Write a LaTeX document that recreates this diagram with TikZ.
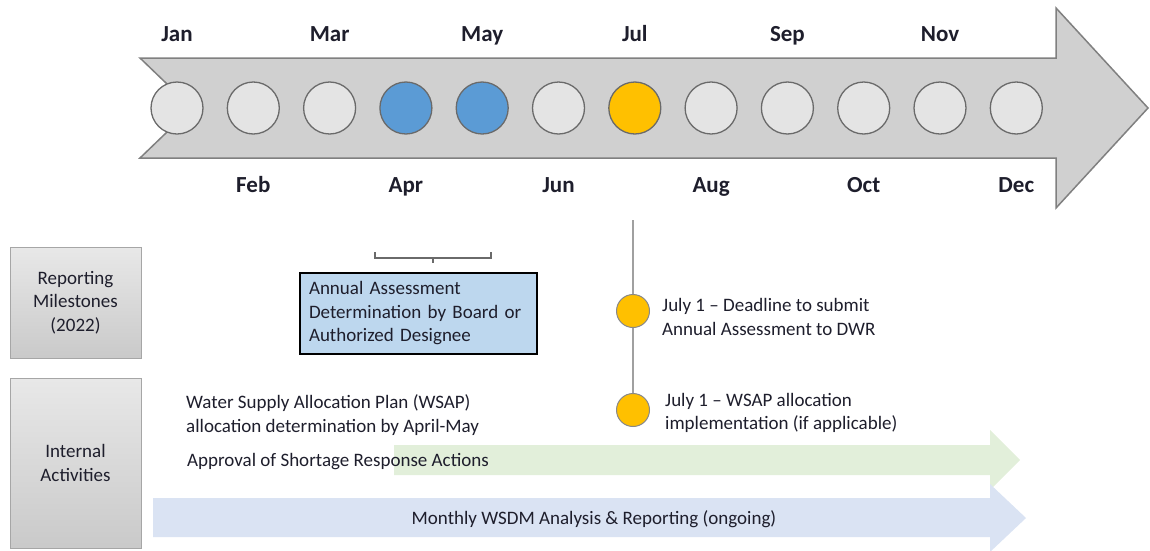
\documentclass[tikz,border=0pt]{standalone}
\usepackage{fontspec}
\setmainfont{Carlito}
\usetikzlibrary{calc}
\definecolor{arrowgray}{HTML}{D0D0D0}
\definecolor{arrowedge}{HTML}{808080}
\definecolor{mgray}{HTML}{E4E4E4}
\definecolor{mblue}{HTML}{5B9BD5}
\definecolor{mgold}{HTML}{FFC000}
\definecolor{circedge}{HTML}{6A6A6A}
\definecolor{txt}{HTML}{1E1E2C}
\definecolor{boxblue}{HTML}{BDD7EE}
\definecolor{lgreen}{HTML}{E2EFDA}
\definecolor{lblue}{HTML}{DAE3F3}
\definecolor{boxedge}{HTML}{A6A6A6}
\definecolor{linegray}{HTML}{A0A0A0}
\tikzset{
  month/.style={circle, draw=circedge, line width=1.3pt, minimum size=52pt, inner sep=0pt},
  monthlbl/.style={text=txt, font=\fontsize{23}{27}\selectfont\bfseries, inner sep=0pt, anchor=base},
  body/.style={text=txt, font=\fontsize{19}{23.5}\selectfont, inner sep=0pt},
  graybox/.style={draw=boxedge, line width=1pt, top color=gray!18, bottom color=gray!42,
    minimum width=131pt, align=center, text=txt, font=\fontsize{19}{23.5}\selectfont},
  dot/.style={circle, fill=mgold, draw=circedge!80, line width=1pt, minimum size=33pt, inner sep=0pt},
}
\begin{document}
\begin{tikzpicture}[x=1pt,y=-1pt]
\useasboundingbox (0,0) rectangle (1150,550);
% main arrow
\draw[fill=arrowgray, draw=arrowedge, line width=1.5pt, line join=miter]
  (140,58) -- (1056,58) -- (1056,8) -- (1148,108) -- (1056,208) -- (1056,158)
  -- (140,158) -- (192,108) -- cycle;
% month circles and labels
\foreach \i/\nm/\col in {1/Jan/mgray,2/Feb/mgray,3/Mar/mgray,4/Apr/mblue,5/May/mblue,6/Jun/mgray,
  7/Jul/mgold,8/Aug/mgray,9/Sep/mgray,10/Oct/mgray,11/Nov/mgray,12/Dec/mgray}{
  \pgfmathsetmacro\xx{177+(\i-1)*76.3}
  \pgfmathsetmacro\ly{mod(\i,2)==1 ? 41 : 192}
  \node[month, fill=\col] (m\i) at (\xx,108) {};
  \node[monthlbl] (l\i) at (\xx,\ly) {\nm};
}
% side boxes
\node[graybox, minimum height=111pt] (rep) at (75.5,302.5) {Reporting\\Milestones\\(2022)};
\node[graybox, minimum height=170pt] (int) at (75.5,463) {Internal\\Activities};
% bracket
\coordinate (bl) at (375,252);
\coordinate (br) at (491,252);
\coordinate (bm) at (433,258);
\coordinate (bt) at (433,263);
\draw[circedge, line width=1.2pt] (bl) |- (bm) -| (br);
\draw[circedge, line width=1.2pt] (bm) -- (bt);
% annual assessment box
\node[draw=black, line width=2pt, fill=boxblue, minimum width=237pt, minimum height=81pt,
  text width=219pt, align=left, inner xsep=9pt, text=txt, font=\fontsize{19}{23.5}\selectfont]
  (aa) at (418.5,313.5) {Annual Assessment\\Determination by Board or\\Authorized Designee};
% internal activity arrows
\draw[fill=lgreen, draw=none]
  (394,445) -- (990,445) -- (990,430) -- (1020,460) -- (990,490) -- (990,475) -- (394,475) -- cycle;
\draw[fill=lblue, draw=none]
  (153,498) -- (990,498) -- (990,484) -- (1026,518) -- (990,552) -- (990,537) -- (153,537) -- cycle;
% July line and dots
\coordinate (jtop) at (633,220);
\node[dot] (d1) at (633,311) {};
\node[dot] (d2) at (633,410) {};
\draw[linegray, line width=2pt] (jtop) -- (d1.north);
\draw[linegray, line width=2pt] (d1.south) -- (d2.north);
% texts
\node[body, anchor=west, align=left] (t1) at (662,317) {July 1 – Deadline to submit\\Annual Assessment to DWR};
\node[body, anchor=west, align=left] (t2) at (665,413) {July 1 – WSAP allocation\\implementation (if applicable)};
\node[body, anchor=west, align=left] (t3) at (186,415) {Water Supply Allocation Plan (WSAP)\\allocation determination by April-May};
\node[body, anchor=west] (t4) at (187,462) {Approval of Shortage Response Actions};
\node[body] (t5) at (594,519) {Monthly WSDM Analysis \& Reporting (ongoing)};
\end{tikzpicture}
\end{document}
